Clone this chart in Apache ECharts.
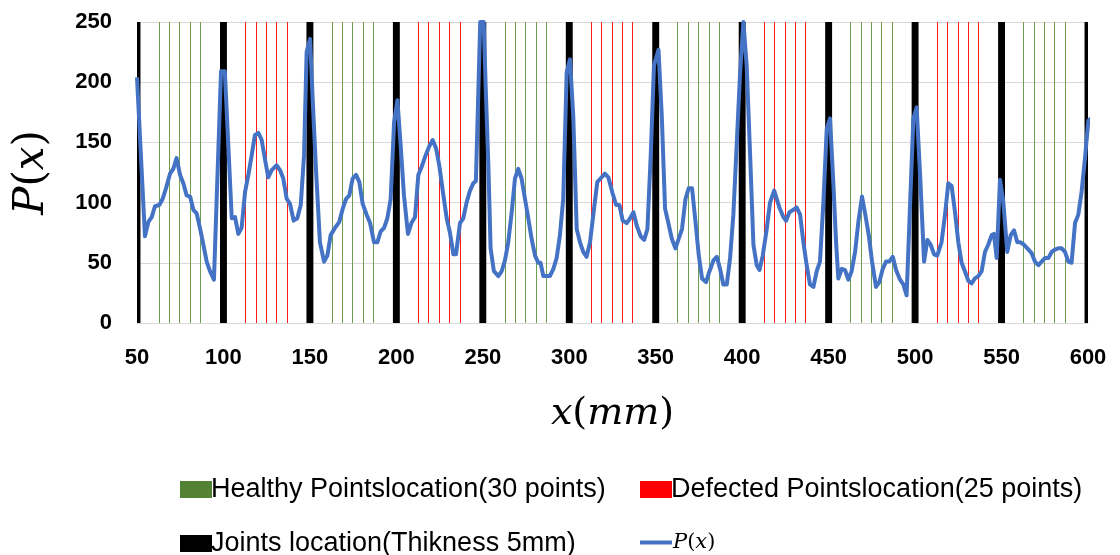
<!DOCTYPE html>
<html>
<head>
<meta charset="utf-8">
<script src="https://cdn.jsdelivr.net/npm/echarts@6/dist/echarts.min.js"></script>
<style>html,body{margin:0;padding:0;background:#fff}#c{width:1120px;height:555px}</style>
</head>
<body>
<div id="c"></div>
<script>
const xPos = [50,54.6,56.6,58.5,60.4,62.9,64.8,66.8,69.1,71,72.9,74.9,76.8,78.7,80.7,82.6,84.5,86.4,88.4,90.3,92.2,94.5,98.6,100.8,104.8,106.7,108.6,110.5,112.5,114.4,116.3,118.2,120.2,122.1,124,125.9,127.9,130.8,132.7,134.6,136.6,138.5,140.6,142.7,144.7,146.6,148.1,150.1,151.6,153.5,155.8,158.2,160.1,162,164.5,167,169,170.9,172.8,174.7,176.7,178.6,180.5,182.8,184.8,187.1,189,190.9,192.9,194.8,196.7,198.7,200.6,202.5,204.4,206.7,208.7,210.8,212.7,214.7,216.6,219.1,221,223,224.9,227.2,229.1,231,233,234.5,236.8,238.7,240.6,242.6,244.5,246,248.5,250.5,251.8,253.2,254.5,256.4,259,260.9,262.8,264.7,266.7,268.6,270.5,272.4,274.4,276.3,278.2,280.2,282.1,283.4,285,286.9,288.8,290.8,292.7,294.6,296.5,298.5,300.4,302.3,304.3,306.2,308.1,310,312,313.9,316.2,318.1,320.6,322.6,325,327.1,329,330.9,333.2,335.2,337.1,339,341.3,343.3,345.2,347.1,349,351.6,353.5,355.4,357.3,359.3,361.4,363.3,365.2,367.2,369.1,371,373,374.9,376.8,379.1,381.1,383.4,385.3,387.2,389.1,391.1,393,394.9,396.9,398.8,400.7,402.6,404.6,406.5,408.4,410,411.9,414.2,416.1,418.5,421.5,423.8,425.4,427.3,429.6,431.5,433.5,435.4,437.3,439.2,441.2,443.1,445,447,448.9,450.8,452.7,454.3,455.6,457.6,459.5,461.4,463.3,465.3,467.2,469.3,471.2,473.2,475.1,477.4,479.3,481.3,483.2,485.1,487.1,489,491.3,493.2,495.1,499,500.9,502.9,505.2,507.1,509,511,512.8,515.3,517.3,519.2,521.1,523.1,525,526.9,528.8,530.8,532.7,534.6,536.6,538.5,540.4,542.3,544.3,545.6,547.2,549.1,551,553.3,555.3,557.2,559.1,561,563,564.9,567.4,569.3,571.3,573.2,575.1,577.1,579,580.9,582.8,584.8,586.7,588.6,590.5,592.5,594.4,596.3,598.2,600.2,601.8];
const pVals = [204,72,84,88,97,98,103,112,124,128,137,123,116,106,105,94,91,79,65,51,43,36,209,209,87,88,74,79,109,123,139,156,158,152,136,121,127,131,127,120,103,99,85,87,98,139,225,236,186,128,67,51,56,73,79,84,95,103,106,120,123,117,99,90,83,67,67,76,79,87,103,167,185,147,106,74,83,88,123,130,138,147,152,145,130,106,87,75,57,57,83,87,100,110,116,118,250,250,190,131,62,43,39,43,52,67,92,120,128,120,103,87,70,56,50,50,39,39,39,45,54,73,103,208,219,172,78,67,59,55,67,90,117,120,124,121,108,98,98,85,83,87,92,81,72,69,78,139,214,227,172,95,83,70,62,70,78,103,112,112,84,56,37,34,43,52,55,45,32,32,54,90,150,208,250,214,139,65,48,44,56,78,100,110,96,88,85,92,94,96,90,67,48,32,30,43,51,101,161,170,117,67,37,45,44,36,43,59,84,105,90,73,51,30,34,45,51,51,55,44,36,32,23,170,179,123,51,69,65,57,56,67,90,116,114,92,67,50,43,35,33,37,39,43,59,65,73,74,54,119,101,59,73,77,67,67,65,62,58,51,48,51,54,54,59,61,62,62,59,51,50,83,90,109,136,168,170];

const healthyX  = [62.7,68.7,74.7,80.7,86.7, 162.7,168.7,174.7,180.7,186.7, 262.7,268.7,274.7,280.7,286.7, 362.7,368.7,374.7,380.7,386.7, 462.7,468.7,474.7,480.7,486.7, 562.7,568.7,574.7,580.7,586.7];
const defectedX = [112.7,118.7,124.7,130.7,136.7, 212.7,218.7,224.7,230.7,236.7, 312.7,318.7,324.7,330.7,336.7, 412.7,418.7,424.7,430.7,436.7, 512.7,518.7,524.7,530.7,536.7];
const jointX    = [50,100,150,200,250,300,350,400,450,500,550,600];
const jointHalf = 2; // 5 mm joint drawn ~4 mm wide in the picture
const xMin = 50, xMax = 600, xStep = 50;
const yMin = 0, yMax = 250, yStep = 50;

const names = {
  healthy: 'Healthy Pointslocation(30 points)',
  defected: 'Defected Pointslocation(25 points)',
  joints: 'Joints location(Thikness 5mm)',
  p: 'P(x)'
};

const chart = echarts.init(document.getElementById('c'), null, {renderer: 'canvas'});
const legendFont = {fontFamily: 'Liberation Sans', fontSize: 27, color: '#000'};
const mathRich = {
  i: {fontFamily: 'DejaVu Serif', fontStyle: 'italic', fontSize: 21, color: '#000'},
  n: {fontFamily: 'DejaVu Serif', fontSize: 21, color: '#000'}
};
function mkLegend(name, left, top, extra) {
  return Object.assign({
    data: [name], left: left, top: top, itemWidth: 32, itemHeight: 17, itemGap: 0,
    textStyle: Object.assign({}, legendFont, {padding: [0, 0, 0, -6]}),
    selectedMode: false
  }, extra || {});
}

const option = {
  animation: false,
  backgroundColor: '#fff',
  grid: {left: 137, right: 32, top: 22, bottom: 232, containLabel: false},
  legend: [
    mkLegend(names.healthy, 175, 471, {icon: 'rect'}),
    mkLegend(names.defected, 635, 471, {icon: 'rect'}),
    mkLegend(names.joints, 175, 525, {icon: 'rect'}),
    mkLegend(names.p, 635, 527, {icon: 'rect', itemHeight: 4,
      formatter: () => '{i|P}{n|(}{i|x}{n|)}',
      textStyle: {rich: mathRich, padding: [0, 0, 0, -4]}})
  ],
  xAxis: {
    type: 'value', min: xMin, max: xMax, interval: xStep,
    axisLine: {show: true, lineStyle: {color: '#d9d9d9', width: 1}},
    axisTick: {show: false},
    splitLine: {show: false},
    axisLabel: {color: '#000', fontFamily: 'Liberation Sans', fontWeight: 'bold', fontSize: 22, margin: 24},
    name: '{i|x}{n|(}{i|mm}{n|)}',
    nameLocation: 'middle', nameGap: 72,
    nameTextStyle: {rich: {
      i: {fontFamily: 'DejaVu Serif', fontStyle: 'italic', fontSize: 38, color: '#000'},
      n: {fontFamily: 'DejaVu Serif', fontSize: 38, color: '#000'}
    }}
  },
  yAxis: {
    type: 'value', min: yMin, max: yMax, interval: yStep,
    axisLine: {show: false},
    axisTick: {show: false},
    splitLine: {show: true, lineStyle: {color: '#d9d9d9', width: 1}},
    axisLabel: {color: '#000', fontFamily: 'Liberation Sans', fontWeight: 'bold', fontSize: 22, margin: 25},
    name: '{i|P}{n|(}{i|x}{n|)}',
    nameLocation: 'middle', nameRotate: 90, nameGap: 84,
    nameTextStyle: {rich: {
      i: {fontFamily: 'DejaVu Serif', fontStyle: 'italic', fontSize: 42, color: '#000'},
      n: {fontFamily: 'DejaVu Serif', fontSize: 42, color: '#000'}
    }}
  },
  series: [
    {
      name: names.healthy, type: 'line', data: [], symbol: 'none',
      itemStyle: {color: '#548235'}, lineStyle: {color: '#548235'},
      markLine: {
        silent: true, symbol: 'none', label: {show: false},
        lineStyle: {color: '#6f9e52', width: 1, type: 'solid'},
        emphasis: {disabled: true},
        data: healthyX.map(x => ({xAxis: x}))
      }
    },
    {
      name: names.defected, type: 'line', data: [], symbol: 'none',
      itemStyle: {color: '#FF0000'}, lineStyle: {color: '#FF0000'},
      markLine: {
        silent: true, symbol: 'none', label: {show: false},
        lineStyle: {color: '#FF1a1a', width: 1, type: 'solid'},
        emphasis: {disabled: true},
        data: defectedX.map(x => ({xAxis: x}))
      }
    },
    {
      name: names.joints, type: 'line', data: [], symbol: 'none',
      itemStyle: {color: '#000'}, lineStyle: {color: '#000'},
      markArea: {
        silent: true, label: {show: false},
        itemStyle: {color: '#000', opacity: 1},
        emphasis: {disabled: true},
        data: jointX.map(j => [{xAxis: Math.max(xMin, j - jointHalf)}, {xAxis: Math.min(xMax, j + jointHalf)}])
      }
    },
    {
      name: names.p, type: 'line', symbol: 'none', smooth: false, clip: false,
      itemStyle: {color: '#4472C4'},
      lineStyle: {color: '#4472C4', width: 4, join: 'round'},
      data: xPos.map((x, i) => [x, Math.min(pVals[i], yMax)]),
      z: 5
    }
  ]
};
chart.setOption(option);
</script>
</body>
</html>
